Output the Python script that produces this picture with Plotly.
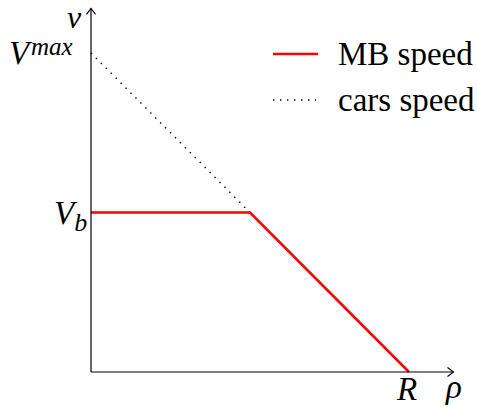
import plotly.graph_objects as go

# Speed-density diagram: moving bottleneck (MB) speed vs. cars speed
rho_points = [0.0, 0.5, 1.0]          # density: 0, rho_b, R
mb_speed = [0.5, 0.5, 0.0]            # V_b plateau, then down to 0 at R
cars_rho = [0.0, 0.5]
cars_speed = [1.0, 0.5]               # V_max(1 - rho/R) up to rho_b

V_MAX = 1.0
V_B = 0.5
R = 1.0
AX_END = 1.14

W, H = 477, 407
# pixel scale: data 0 -> px 91 (x), 372 (y); 1 unit ~ 318 px
x_range = [-91 / 318, (W - 91) / 318]
y_range = [-(H - 372) / 319, 372 / 319]

SERIF = "Liberation Serif, Times New Roman, serif"
math_font = dict(family=SERIF, size=33, color="black")
small_math = dict(family=SERIF, size=25, color="black")
text_font = dict(family=SERIF, size=33, color="black")

fig = go.Figure()

fig.add_trace(go.Scatter(
    x=cars_rho, y=cars_speed, mode="lines",
    line=dict(color="black", width=1.4, dash="1.4px,5.6px"),
    name="cars speed", showlegend=False, hoverinfo="skip"))
fig.add_trace(go.Scatter(
    x=rho_points, y=mb_speed, mode="lines",
    line=dict(color="#ff0000", width=2.6),
    name="MB speed", showlegend=False, hoverinfo="skip"))

shapes = [
    # axes
    dict(type="line", xref="x", yref="y", x0=0, y0=0, x1=AX_END, y1=0,
         line=dict(color="black", width=1.2)),
    dict(type="line", xref="x", yref="y", x0=0, y0=0, x1=0, y1=AX_END,
         line=dict(color="black", width=1.2)),
    # arrow heads
    dict(type="path", xref="x", yref="y", xsizemode="pixel", ysizemode="pixel",
         xanchor=AX_END, yanchor=0,
         path="M-6,4.5 Q-2,1.5 0,0 Q-2,-1.5 -6,-4.5",
         line=dict(color="black", width=1.1)),
    dict(type="path", xref="x", yref="y", xsizemode="pixel", ysizemode="pixel",
         xanchor=0, yanchor=AX_END,
         path="M-4.5,-6 Q-1.5,-2 0,0 Q1.5,-2 4.5,-6",
         line=dict(color="black", width=1.1)),
    # legend samples
    dict(type="line", xref="paper", yref="paper",
         x0=273 / W, x1=318 / W, y0=1 - 54 / H, y1=1 - 54 / H,
         line=dict(color="#ff0000", width=2.6)),
    dict(type="line", xref="paper", yref="paper",
         x0=273 / W, x1=316 / W, y0=1 - 100 / H, y1=1 - 100 / H,
         line=dict(color="black", width=1.4, dash="1.4px,5.6px")),
]

sub = "<span style='font-size:26px'><i>b</i></span>"

annotations = [
    # V^max: base letter and its superscript
    dict(x=0, y=V_MAX, xref="x", yref="y", text="<i>V</i>",
         xanchor="right", yanchor="middle", xshift=-56, yshift=0,
         showarrow=False, font=math_font),
    dict(x=0, y=V_MAX, xref="x", yref="y", text="<i>max</i>",
         xanchor="left", yanchor="middle", xshift=-62, yshift=7,
         showarrow=False, font=small_math),
    dict(x=0, y=V_B, xref="x", yref="y", text=f"<i>V</i><sub>{sub}</sub>",
         xanchor="right", yanchor="middle", xshift=-2, yshift=-3,
         showarrow=False, font=math_font),
    dict(x=R, y=0, xref="x", yref="y", text="<i>R</i>",
         xanchor="center", yanchor="top", xshift=-3, yshift=3,
         showarrow=False, font=math_font),
    dict(x=AX_END, y=0, xref="x", yref="paper", text="<i>ρ</i>",
         xanchor="center", yanchor="bottom", xshift=0, yshift=0,
         showarrow=False, font=math_font),
    dict(x=0, y=1, xref="x", yref="paper", text="<i>v</i>",
         xanchor="right", yanchor="top", xshift=-7, yshift=3,
         showarrow=False, font=dict(family=SERIF, size=32, color="black")),
    dict(x=336 / W, y=1 - 54 / H, xref="paper", yref="paper", text="MB speed",
         xanchor="left", yanchor="middle", showarrow=False, font=text_font),
    dict(x=336 / W, y=1 - 100 / H, xref="paper", yref="paper", text="cars speed",
         xanchor="left", yanchor="middle", showarrow=False, font=text_font),
]

fig.update_layout(
    width=W, height=H,
    margin=dict(l=0, r=0, t=0, b=0),
    paper_bgcolor="white", plot_bgcolor="white",
    xaxis=dict(range=x_range, visible=False, fixedrange=True),
    yaxis=dict(range=y_range, visible=False, fixedrange=True),
    shapes=shapes, annotations=annotations,
    showlegend=False,
)

fig.write_html("out.html")
